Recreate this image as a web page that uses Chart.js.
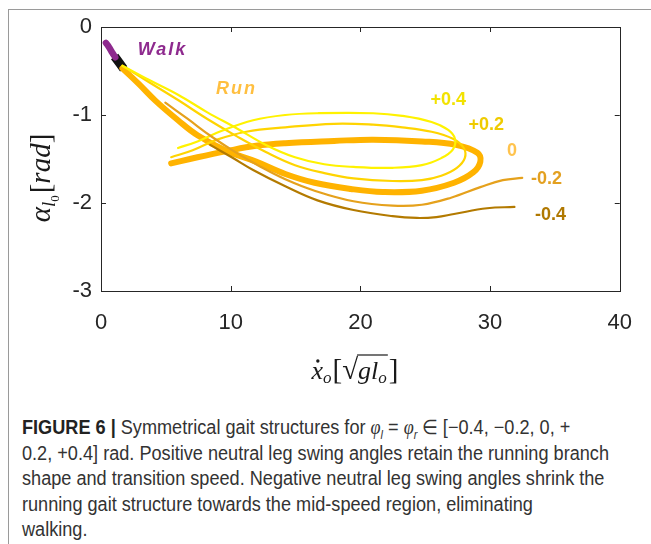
<!DOCTYPE html>
<html><head><meta charset="utf-8">
<script src="https://cdn.jsdelivr.net/npm/chart.js@4.4.0/dist/chart.umd.min.js"></script>
<style>
html,body{margin:0;padding:0;background:#fff;}
body{width:651px;height:544px;position:relative;overflow:hidden;}
#frame{position:absolute;left:8px;top:9px;width:700px;height:600px;border-left:1px solid #9a9a9a;border-top:1px solid #9a9a9a;}
#wrap{position:absolute;left:0;top:0;width:651px;height:400px;}
#caption{position:absolute;left:22px;top:415px;font-family:"Liberation Sans Narrow","Arial Narrow","Liberation Sans",sans-serif;font-size:20px;line-height:25.5px;color:#333;white-space:nowrap;transform-origin:0 0;}
#caption div{height:25.5px;}
#caption span.l{display:inline-block;}
#caption b{color:#222;}
#caption .m{font-family:"Liberation Serif",serif;}
#caption sub{font-size:12px;line-height:0;}
</style></head>
<body>
<div id="frame"></div>
<div id="wrap"><canvas id="c" width="651" height="400"></canvas></div>
<div id="caption"><div><span class="l"><b>FIGURE 6 |</b> Symmetrical gait structures for <i class="m">φ</i><sub><i>l</i></sub> = <i class="m">φ</i><sub><i>r</i></sub> ∈ [−0.4, −0.2, 0, +</span></div><div><span class="l" id="ln2">0.2, +0.4] rad. Positive neutral leg swing angles retain the running branch</span></div><div><span class="l">shape and transition speed. Negative neutral leg swing angles shrink the</span></div><div><span class="l">running gait structure towards the mid-speed region, eliminating</span></div><div><span class="l">walking.</span></div></div>
<script>
// fit caption width (condensed face)
(function(){
  const w = document.getElementById('ln2').getBoundingClientRect().width;
  const k = 587 / w;
  if (k < 1) document.getElementById('caption').style.transform = 'scaleX(' + k + ')';
})();

// ---- data ----
const xTicks = [0, 10, 20, 30, 40];
const yTicks = [0, -1, -2, -3];

const walkX = [0.38, 0.62, 0.86, 1.1];
const walkY = [-0.18, -0.23, -0.29, -0.345];

const transX = [1.05, 1.75];
const transY = [-0.335, -0.475];

const runP04X = [1.65, 3.68, 5.94, 8.20, 10.45, 12.71, 14.96, 17.22, 19.47, 22.48, 24.74, 26.24, 27.14, 27.29, 26.77, 25.49, 23.23, 20.98, 16.69, 14.21, 11.73, 9.32, 7.44, 5.94];
const runP04Y = [-0.44, -0.60, -0.77, -0.97, -1.15, -1.34, -1.48, -1.56, -1.59, -1.60, -1.57, -1.49, -1.39, -1.27, -1.17, -1.08, -1.01, -0.98, -0.98, -1.00, -1.06, -1.18, -1.30, -1.375];

const runP02X = [1.65, 3.68, 5.94, 8.20, 10.45, 12.71, 14.96, 17.22, 19.47, 22.48, 24.74, 26.24, 27.44, 28.05, 27.97, 27.14, 25.49, 23.23, 20.98, 17.97, 14.21, 11.20, 8.95, 7.07, 5.41];
const runP02Y = [-0.44, -0.625, -0.83, -1.045, -1.24, -1.42, -1.57, -1.66, -1.72, -1.75, -1.74, -1.69, -1.60, -1.49, -1.375, -1.27, -1.19, -1.14, -1.11, -1.10, -1.14, -1.19, -1.28, -1.40, -1.48];

const run0X = [1.65, 2.93, 4.21, 5.94, 7.44, 9.70, 11.95, 14.21, 16.47, 19.25, 21.73, 24.74, 27.22, 28.72, 29.25, 29.02, 27.37, 24.74, 20.98, 17.97, 14.21, 11.95, 9.70, 7.44, 5.41];
const run0Y = [-0.47, -0.65, -0.84, -1.06, -1.23, -1.41, -1.53, -1.67, -1.77, -1.84, -1.875, -1.86, -1.77, -1.65, -1.53, -1.43, -1.34, -1.30, -1.28, -1.295, -1.32, -1.35, -1.41, -1.48, -1.55];

const runM02X = [4.96, 6.69, 8.57, 10.45, 12.33, 14.21, 16.47, 19.47, 22.48, 24.74, 26.99, 29.25, 30.98, 32.48];
const runM02Y = [-0.86, -1.045, -1.25, -1.43, -1.59, -1.73, -1.86, -1.98, -2.03, -2.02, -1.94, -1.82, -1.74, -1.715];

const runM04X = [8.42, 10.08, 11.73, 14.21, 16.69, 19.47, 22.48, 24.36, 25.86, 27.22, 29.77, 31.88];
const runM04Y = [-1.34, -1.48, -1.625, -1.81, -1.97, -2.08, -2.15, -2.17, -2.16, -2.125, -2.06, -2.045];

const labelTexts = ['Walk', 'Run', '+0.4', '+0.2', '0', '-0.2', '-0.4'];
const labelX = [4.74, 10.45, 26.77, 29.7, 31.7, 34.36, 34.66];
const labelY = [-0.26, -0.705, -0.83, -1.11, -1.41, -1.73, -2.14];

// ---- styles ----
const labelColors = ['#8E2A8E', '#FFBF40', '#F2E200', '#EFCB00', '#FFC34D', '#E3A020', '#B07800'];
const labelItalic = [true, true, false, false, false, false, false];

function pts(xs, ys) { return xs.map((x, i) => ({ x: x, y: ys[i] })); }
function line(xs, ys, color, w, cap) {
  return { data: pts(xs, ys), showLine: true, borderColor: color, backgroundColor: color,
    borderWidth: w, pointRadius: 0, tension: 0.4, borderCapStyle: cap || 'round', borderJoinStyle: 'round', fill: false };
}

const boxPlugin = {
  id: 'box',
  afterDraw(chart) {
    const ctx = chart.ctx, a = chart.chartArea, xs = chart.scales.x, ys = chart.scales.y;
    ctx.save();
    ctx.strokeStyle = '#262626'; ctx.lineWidth = 1;
    ctx.strokeRect(Math.round(a.left) + 0.5, Math.round(a.top) + 0.5, Math.round(a.right - a.left), Math.round(a.bottom - a.top));
    ctx.beginPath();
    const L = 5;
    xTicks.forEach(v => {
      const p = Math.round(xs.getPixelForValue(v)) + 0.5;
      ctx.moveTo(p, a.bottom); ctx.lineTo(p, a.bottom - L);
      ctx.moveTo(p, a.top); ctx.lineTo(p, a.top + L);
    });
    yTicks.forEach(v => {
      const p = Math.round(ys.getPixelForValue(v)) + 0.5;
      ctx.moveTo(a.left, p); ctx.lineTo(a.left + L, p);
      ctx.moveTo(a.right, p); ctx.lineTo(a.right - L, p);
    });
    ctx.stroke();
    ctx.restore();
  }
};

const labelPlugin = {
  id: 'labels',
  afterDatasetsDraw(chart) {
    const ctx = chart.ctx, xs = chart.scales.x, ys = chart.scales.y;
    ctx.save();
    ctx.textAlign = 'center'; ctx.textBaseline = 'middle';
    labelTexts.forEach((t, i) => {
      ctx.font = (labelItalic[i] ? 'italic ' : '') + 'bold 18px "Liberation Sans", Arial, sans-serif';
      ctx.letterSpacing = labelItalic[i] ? '2px' : '0px';
      ctx.fillStyle = labelColors[i];
      ctx.fillText(t, xs.getPixelForValue(labelX[i]), ys.getPixelForValue(labelY[i]));
    });
    ctx.restore();
  }
};

function drawPieces(ctx, pieces, x0, base) {
  let x = x0;
  const pos = [];
  pieces.forEach(p => {
    ctx.font = p.f;
    ctx.fillText(p.t, x, base + (p.dy || 0));
    const w = ctx.measureText(p.t).width;
    pos.push([x, w]);
    x += w + (p.gap || 0);
  });
  return pos;
}
function piecesWidth(ctx, pieces) {
  let w = 0;
  pieces.forEach(p => { ctx.font = p.f; w += ctx.measureText(p.t).width + (p.gap || 0); });
  return w;
}

const titlePlugin = {
  id: 'titles',
  afterDraw(chart) {
    const ctx = chart.ctx;
    ctx.save();
    ctx.fillStyle = '#1a1a1a'; ctx.strokeStyle = '#1a1a1a';
    ctx.textAlign = 'left'; ctx.textBaseline = 'alphabetic';
    const S = '"Liberation Serif", "DejaVu Serif", serif';
    const xp = [
      { t: 'x', f: 'italic 26px ' + S },
      { t: 'o', f: 'italic 17px ' + S, dy: 4, gap: 1 },
      { t: '[', f: '29px ' + S },
      { t: '√', f: '29px ' + S },
      { t: 'g', f: 'italic 26px ' + S },
      { t: 'l', f: 'italic 26px ' + S },
      { t: 'o', f: 'italic 17px ' + S, dy: 4, gap: 2 },
      { t: ']', f: '29px ' + S }
    ];
    const xw = piecesWidth(ctx, xp);
    const base = 379;
    const pos = drawPieces(ctx, xp, 355 - xw / 2, base);
    ctx.beginPath();
    ctx.arc(pos[0][0] + pos[0][1] * 0.55, base - 18, 1.7, 0, Math.PI * 2);
    ctx.fill();
    ctx.lineWidth = 1.2;
    ctx.beginPath();
    ctx.moveTo(pos[3][0] + pos[3][1] - 1, base - 24);
    ctx.lineTo(pos[6][0] + pos[6][1] + 1, base - 24);
    ctx.stroke();
    const yp = [
      { t: 'α', f: 'italic 29px ' + S },
      { t: 'l', f: 'italic 19px ' + S, dy: 5 },
      { t: '0', f: '13px ' + S, dy: 9, gap: 2 },
      { t: '[', f: '29px ' + S },
      { t: 'rad', f: 'italic 29px ' + S },
      { t: ']', f: '29px ' + S }
    ];
    const yw = piecesWidth(ctx, yp);
    ctx.translate(50, 178);
    ctx.rotate(-Math.PI / 2);
    drawPieces(ctx, yp, -yw / 2, 0);
    ctx.restore();
  }
};

const datasets = [
  line(runM04X, runM04Y, '#B37A00', 2.2),
  line(runM02X, runM02Y, '#E5A11C', 2.2),
  line(runP04X, runP04Y, '#FFF200', 2.2),
  line(runP02X, runP02Y, '#FFD400', 2.2),
  line(run0X, run0Y, '#FFB300', 6),
  line(walkX, walkY, '#8E2A8E', 6.5),
  line(transX, transY, '#111111', 9, 'butt')
];

new Chart(document.getElementById('c'), {
  type: 'scatter',
  data: { datasets: datasets },
  plugins: [boxPlugin, labelPlugin, titlePlugin],
  options: {
    responsive: false,
    animation: false,
    devicePixelRatio: 1,
    layout: { padding: { left: 0, top: 27, right: 18, bottom: 0 } },
    plugins: { legend: { display: false }, tooltip: { enabled: false } },
    scales: {
      x: {
        type: 'linear', min: 0, max: 40,
        afterFit(s) { s.height = 109; },
        afterBuildTicks(s) { s.ticks = xTicks.map(v => ({ value: v })); },
        grid: { display: false, drawTicks: false },
        border: { display: false },
        ticks: { padding: 19, color: '#262626', font: { family: '"Liberation Sans", Arial, sans-serif', size: 22 } }
      },
      y: {
        type: 'linear', min: -3, max: 0,
        afterFit(s) { s.width = 101; },
        afterBuildTicks(s) { s.ticks = yTicks.map(v => ({ value: v })); },
        grid: { display: false, drawTicks: false },
        border: { display: false },
        ticks: { padding: 9, color: '#262626', font: { family: '"Liberation Sans", Arial, sans-serif', size: 22 } }
      }
    }
  }
});
</script>
</body></html>
